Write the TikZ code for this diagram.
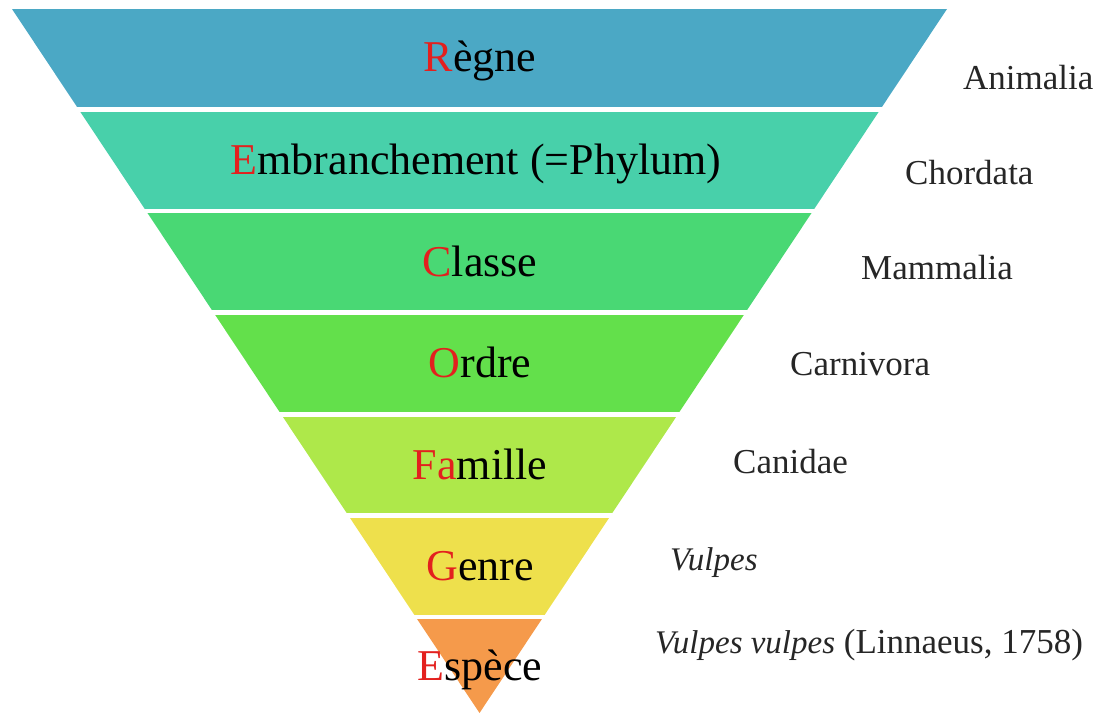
\documentclass[tikz,border=0pt]{standalone}
\usepackage{fontspec}
\setmainfont{Liberation Serif}

\definecolor{cRegne}{HTML}{4BA8C5}
\definecolor{cEmbr}{HTML}{48D0AA}
\definecolor{cClasse}{HTML}{49D874}
\definecolor{cOrdre}{HTML}{63E04B}
\definecolor{cFamille}{HTML}{AEE84A}
\definecolor{cGenre}{HTML}{EEE04C}
\definecolor{cEspece}{HTML}{F59A4B}
\definecolor{lettre}{HTML}{E3201E}
\newcommand{\initiale}[1]{\textcolor{lettre}{#1}}
\newcommand{\nomlatin}[1]{{\fontsize{33}{40}\selectfont\itshape #1}}

\begin{document}
\begin{tikzpicture}[x=1pt,y=-1pt,
  rang/.style={font=\fontsize{44}{52}\selectfont, anchor=base, inner sep=0pt},
  taxon/.style={font=\fontsize{35}{42}\selectfont, anchor=base west, inner sep=0pt, text=black!85}]
  \useasboundingbox (0,0) rectangle (1099,714);
  % the bands of the funnel
  \begin{scope}
    \clip (12,9) -- (947,9) -- (479.5,713) -- cycle;
    \foreach \ya/\yb/\col in {9/107/cRegne, 112/209/cEmbr, 213/310/cClasse,
        315/412/cOrdre, 417/513/cFamille, 518/615/cGenre, 619/714/cEspece}
      \fill[\col] (0,\ya) rectangle (1099,\yb);
  \end{scope}
  % ranks
  \node[rang] (regne)   at (480,72)  {\initiale{R}ègne};
  \node[rang] (embr)    at (476,175) {\initiale{E}mbranchement (=Phylum)};
  \node[rang] (classe)  at (480,276) {\initiale{C}lasse};
  \node[rang] (ordre)   at (480,377) {\initiale{O}rdre};
  \node[rang] (famille) at (480,479) {\initiale{Fa}mille};
  \node[rang] (genre)   at (480,580) {\initiale{G}enre};
  \node[rang] (espece)  at (480,680) {\initiale{E}spèce};
  % example : the red fox
  \node[taxon] (animalia)  at (963,90)  {Animalia};
  \node[taxon] (chordata)  at (905,184) {Chordata};
  \node[taxon] (mammalia)  at (861,279) {Mammalia};
  \node[taxon] (carnivora) at (790,375) {Carnivora};
  \node[taxon] (canidae)   at (733,473) {Canidae};
  \node[taxon] (vulpes)    at (670,570) {\nomlatin{Vulpes}};
  \node[taxon] (vvulpes)   at (655,653) {\nomlatin{Vulpes vulpes} (Linnaeus, 1758)};
\end{tikzpicture}
\end{document}
